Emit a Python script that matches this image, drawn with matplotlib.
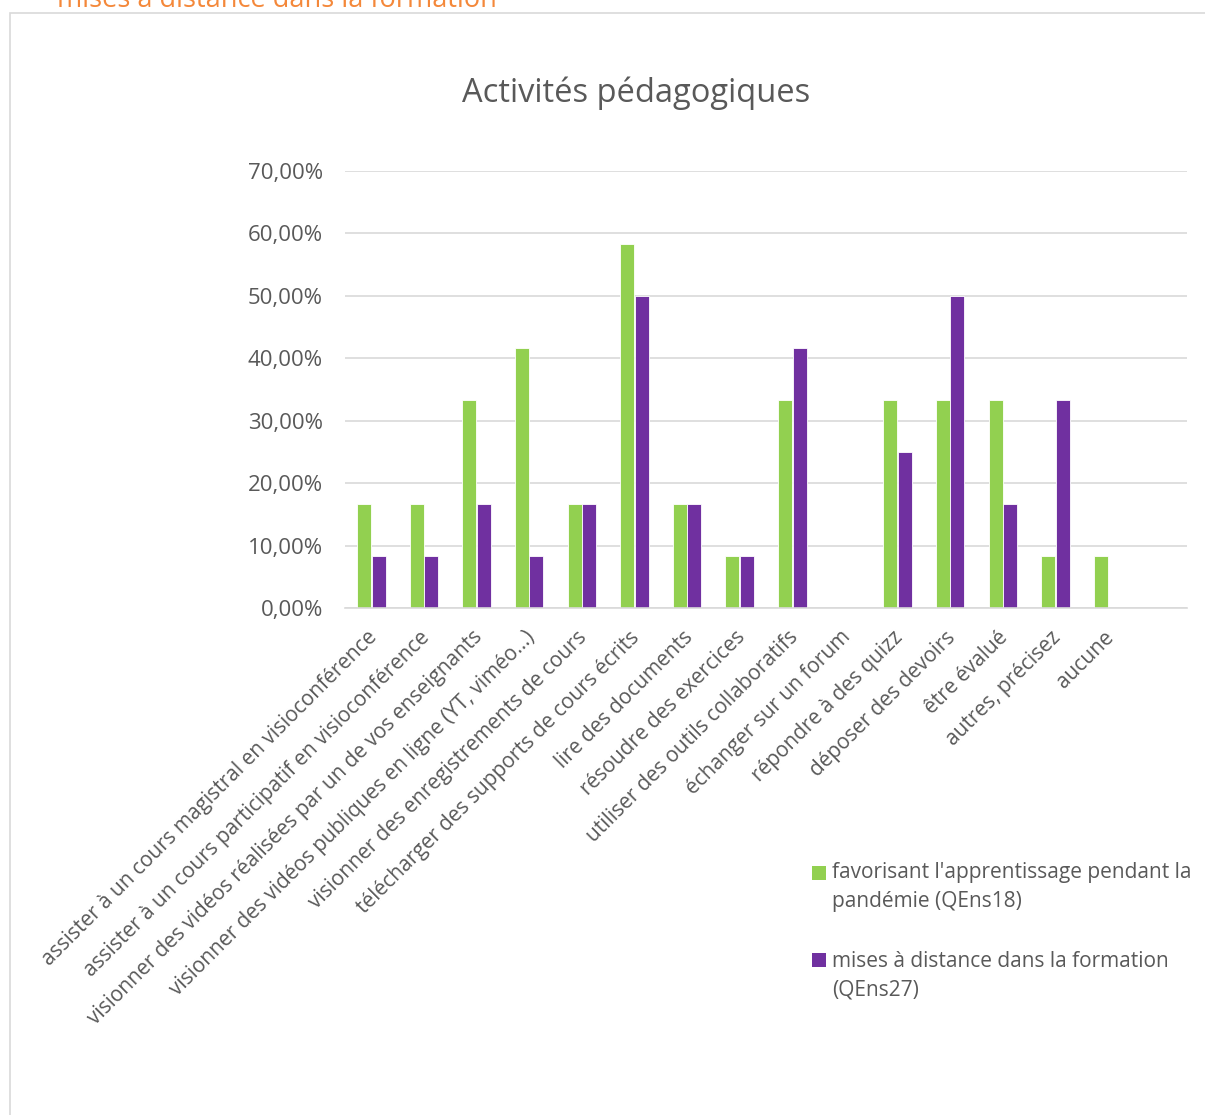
import numpy as np
import matplotlib.pyplot as plt
import matplotlib.transforms as mtransforms
from matplotlib.patches import Rectangle
from matplotlib.ticker import FuncFormatter

categories = [
    "assister à un cours magistral en visioconférence",
    "assister à un cours participatif en visioconférence",
    "visionner des vidéos réalisées par un de vos enseignants",
    "visionner des vidéos publiques en ligne (YT, viméo…)",
    "visionner des enregistrements de cours",
    "télécharger des supports de cours écrits",
    "lire des documents",
    "résoudre des exercices",
    "utiliser des outils collaboratifs",
    "échanger sur un forum",
    "répondre à des quizz",
    "déposer des devoirs",
    "être évalué",
    "autres, précisez",
    "aucune",
]
qens18 = [16.67, 16.67, 33.33, 41.67, 16.67, 58.33, 16.67, 8.33, 33.33, 0, 33.33, 33.33, 33.33, 8.33, 8.33]
qens27 = [8.33, 8.33, 16.67, 8.33, 16.67, 50.0, 16.67, 8.33, 41.67, 0, 25.0, 50.0, 16.67, 33.33, 0]
label18 = "favorisant l'apprentissage pendant la\npandémie (QEns18)"
label27 = "mises à distance dans la formation\n(QEns27)"
yticks = [0, 10, 20, 30, 40, 50, 60, 70]

green = "#92D050"
purple = "#7030A0"
grey = "#595959"

plt.rcParams['font.family'] = ['Open Sans', 'DejaVu Sans']

W, H = 1205, 1115
fig = plt.figure(figsize=(W / 100, H / 100), dpi=100)

# chart frame and the cut-off heading above it
fig.patches.append(Rectangle((10 / W, -0.01), 1.1, (H - 13) / H + 0.01,
                             transform=fig.transFigure, fill=False,
                             edgecolor="#d9d9d9", linewidth=1.2))
fig.text(57 / W, 1.0, "mises à distance dans la formation", color="#F4883A",
         fontsize=19.5, va='center', ha='left')

ax = fig.add_axes([345 / W, 1 - 608 / H, (1187 - 345) / W, (608 - 171) / H])

x = np.arange(len(categories))
w = 0.266
b18 = ax.bar(x - w / 2 - 0.005, qens18, w, color=green, edgecolor='white', linewidth=0.6)
b27 = ax.bar(x + w / 2 + 0.005, qens27, w, color=purple, edgecolor='white', linewidth=0.6)

# the excel sheet had one empty category slot at the end
ax.set_xlim(-0.5, len(categories) + 0.5)
ax.set_ylim(0, 70)
ax.set_yticks(yticks)
ax.yaxis.set_major_formatter(FuncFormatter(lambda v, p: ("%.2f%%" % v).replace('.', ',')))
ax.grid(axis='y', color="#d9d9d9", linewidth=1.2)
ax.set_axisbelow(True)
for s in ['top', 'right', 'left']:
    ax.spines[s].set_visible(False)
ax.spines['bottom'].set_color("#d9d9d9")
ax.spines['bottom'].set_linewidth(1.2)
ax.tick_params(axis='both', length=0, colors=grey)
ax.tick_params(axis='y', pad=16, labelsize=16)

ax.set_xticks(x)
ax.set_xticklabels(categories, rotation=45, ha='right', rotation_mode='anchor', color=grey)
shift = mtransforms.ScaledTranslation(-0.05, -0.14, fig.dpi_scale_trans)
for lbl in ax.get_xticklabels():
    lbl.set_fontsize(15)
    lbl.set_transform(lbl.get_transform() + shift)

fig.text(636 / W, 1 - 93 / H, "Activités pédagogiques", fontsize=23.5, color=grey,
         ha='center', va='center')

# legend drawn by hand so the square sits on the first text line, like excel does
for bars, lab, ymark, ytxt in [(b18, label18, 873, 887), (b27, label27, 960, 976)]:
    fig.patches.append(Rectangle((812 / W, 1 - (ymark + 7) / H), 14 / W, 14 / H,
                                 transform=fig.transFigure,
                                 facecolor=bars.patches[0].get_facecolor(),
                                 edgecolor='none'))
    fig.text(832 / W, 1 - ytxt / H, lab, fontsize=15, color=grey,
             ha='left', va='center', linespacing=1.45)

fig.savefig("out.png", dpi=100)
